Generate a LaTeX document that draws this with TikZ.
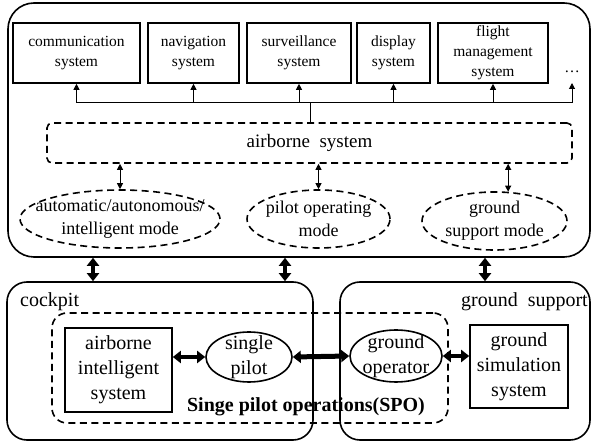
\documentclass[tikz,border=0pt]{standalone}
\usepackage{fontspec}
\setmainfont{Liberation Serif}
\usetikzlibrary{shapes.geometric,arrows.meta,calc}

\begin{document}
\begin{tikzpicture}[x=1pt,y=-1pt,
  frame/.style={draw, line width=1.6pt, rounded corners=26pt, inner sep=0pt},
  sysbox/.style={draw, line width=1.6pt, align=center, inner sep=0pt,
    minimum height=60pt, font=\fontsize{15.5}{19.5}\selectfont},
  dashbox/.style={draw, line width=1.6pt, dash pattern=on 7pt off 4.5pt},
  modeell/.style={dashbox, ellipse, align=center, inner xsep=-20pt, inner ysep=-4pt,
    minimum height=58pt, font=\fontsize{18}{23}\selectfont},
  bigtext/.style={font=\fontsize{20}{25}\selectfont},
  solidbox/.style={draw, line width=1.6pt, align=center, inner sep=0pt, bigtext},
  solidell/.style={draw, line width=1.6pt, ellipse, align=center, inner xsep=-6pt,
    inner ysep=-4pt, bigtext},
  thin/.style={line width=1pt},
  tip/.style={thin, -{Triangle[width=6pt,length=6pt]}},
  dtip/.style={thin, {Triangle[width=6pt,length=6pt]}-{Triangle[width=6pt,length=6pt]}},
  fat/.style={line width=#1, {Triangle[width=12pt,length=8pt]}-{Triangle[width=12pt,length=8pt]}},
  fat/.default=4pt]
\useasboundingbox (0,0) rectangle (592,443);

% ---------- upper part: airborne side ----------
\node[frame, minimum width=582pt, minimum height=254pt] (upper) at (299,130) {};

\node[sysbox, minimum width=127pt] (comm) at (76.5,53) {communication\\system};
\node[sysbox, minimum width=91pt]  (nav)  at (193.5,53) {navigation\\system};
\node[sysbox, minimum width=104pt] (surv) at (299,53) {surveillance\\system};
\node[sysbox, minimum width=73pt]  (disp) at (393.5,53) {display\\system};
\node[sysbox, minimum width=110pt, font=\fontsize{15.5}{20}\selectfont] (fms) at (493,53) {flight\\management\\system};
\node[font=\fontsize{15.5}{19.5}\selectfont, inner sep=0pt] (dots) at (572,72) {\dots};
\coordinate (dotsfoot) at (572,83);

\node[dashbox, rounded corners=5pt, minimum width=525pt, minimum height=40pt,
  font=\fontsize{19}{23}\selectfont] (air) at (309.5,143) {airborne\ \ system};

\coordinate (hub) at (310,103);

% bus from the airborne system to the subsystems
\draw[thin] (air.north -| hub) -- (hub);
\draw[thin] (comm.south |- hub) -- (dotsfoot |- hub);
\foreach \b in {comm,nav,surv,disp,fms}
  \draw[tip] (\b.south |- hub) -- (\b.south);
\draw[tip] (dotsfoot |- hub) -- (dotsfoot);

% operating modes
\node[modeell, minimum width=200pt] (m1) at (120,219) {automatic/autonomous/\\intelligent mode};
\node[modeell, minimum width=143pt] (m2) at (318.5,219) {pilot operating\\mode};
\node[modeell, minimum width=145pt] (m3) at (494.5,221) {ground\\support mode};

\draw[dtip] (air.south -| m1.north) -- (m1.north);
\draw[dtip] (air.south -| m2.north) -- (m2.north);
\draw[dtip] (m3.65 |- air.south) -- (m3.65);

% ---------- lower part ----------
\node[frame, rounded corners=20pt, minimum width=306pt, minimum height=158pt] (cockpit) at (160,361) {};
\node[frame, rounded corners=20pt, minimum width=250pt, minimum height=158pt] (ground) at (465,361) {};

\node[bigtext, anchor=west, inner sep=0pt] (cocklbl) at (20,302) {cockpit};
\node[bigtext, anchor=east, inner sep=0pt] (gndlbl) at (588,302) {ground\ \ support};

\node[dashbox, rounded corners=15pt, minimum width=396pt, minimum height=110pt] (spo) at (250,368) {};

\node[solidbox, minimum width=107pt, minimum height=84pt] (ais) at (118.5,370) {airborne\\intelligent\\system};
\node[solidell, minimum width=86pt, minimum height=50pt] (pilot) at (249,357) {single\\pilot};
\node[solidell, minimum width=92pt, minimum height=52pt] (gop) at (396,356) {ground\\operator};
\node[solidbox, minimum width=98pt, minimum height=83pt] (sim) at (519,366.5) {ground\\simulation\\system};

\node[bigtext, font=\fontsize{20}{25}\selectfont\bfseries, inner sep=0pt] (spolbl) at (306,407) {Singe pilot operations(SPO)};

\draw[fat=3.5pt] (ais.east |- pilot.west) -- (pilot.west);
\draw[fat=5pt] (pilot.east) -- (gop.west);
\draw[fat=3.5pt] (gop.east) -- (sim.west |- gop.east);

% links between the airborne part and the ground/cockpit parts
\coordinate (c1) at (93,0);
\coordinate (c2) at (285,0);
\coordinate (c3) at (485,0);
\draw[fat] (c1 |- upper.south) -- (c1 |- cockpit.north);
\draw[fat] (c2 |- upper.south) -- (c2 |- cockpit.north);
\draw[fat] (c3 |- upper.south) -- (c3 |- ground.north);
\end{tikzpicture}
\end{document}
